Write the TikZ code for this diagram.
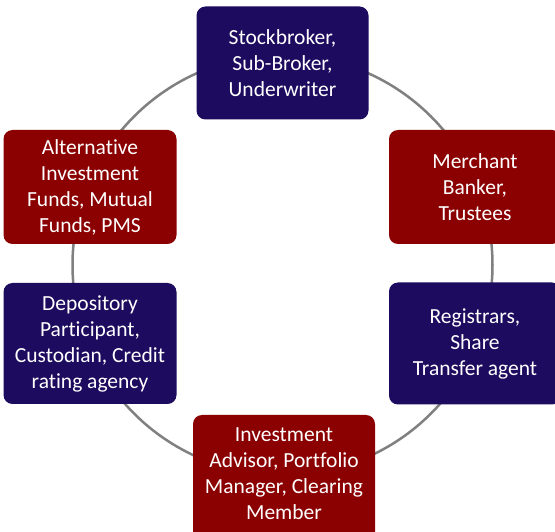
\documentclass[tikz,border=0pt]{standalone}
\usepackage{fontspec}
\setmainfont[Ligatures={NoCommon,NoRare,NoContextual}]{Carlito}
\definecolor{navybox}{RGB}{28,11,94}
\definecolor{redbox}{RGB}{139,0,0}
\definecolor{ringgray}{RGB}{128,128,128}
\tikzset{
  card/.style={rectangle, rounded corners=9pt, draw=none, text=white, align=center,
    font=\fontsize{21.5pt}{26pt}\selectfont, inner sep=0pt},
  navycard/.style={card, fill=navybox},
  redcard/.style={card, fill=redbox},
  ring/.style={draw=ringgray, line width=2.5pt}
}
\begin{document}
\begin{tikzpicture}[x=1pt,y=1pt]
\useasboundingbox (0,0) rectangle (555,531);
\clip (0,0) rectangle (555,531);
\fill[white] (0,0) rectangle (555,531);
\coordinate (ringc) at (282.5,266);
\draw[ring] (ringc) circle (210);
\node[navycard, minimum width=172pt, minimum height=113pt] (top) at (282.5,468) {Stockbroker,\\Sub-Broker,\\Underwriter};
\node[redcard, minimum width=173pt, minimum height=114pt] (alt) at (90,344) {Alternative\\Investment\\Funds, Mutual\\Funds, PMS};
\node[redcard, minimum width=172pt, minimum height=114pt] (merch) at (475,344) {Merchant\\Banker,\\Trustees};
\node[navycard, minimum width=173pt, minimum height=121pt] (dep) at (90,187.5) {Depository\\Participant,\\Custodian, Credit\\rating agency};
\node[navycard, minimum width=172pt, minimum height=122pt] (reg) at (475,187.5) {Registrars,\\Share\\Transfer agent};
\node[redcard, minimum width=182pt, minimum height=128pt] (inv) at (284,52) {};
\node[text=white, align=center, font=\fontsize{21.5pt}{26pt}\selectfont, inner sep=0pt] (invtext) at (284,57) {Investment\\Advisor, Portfolio\\Manager, Clearing\\Member};
\end{tikzpicture}
\end{document}
